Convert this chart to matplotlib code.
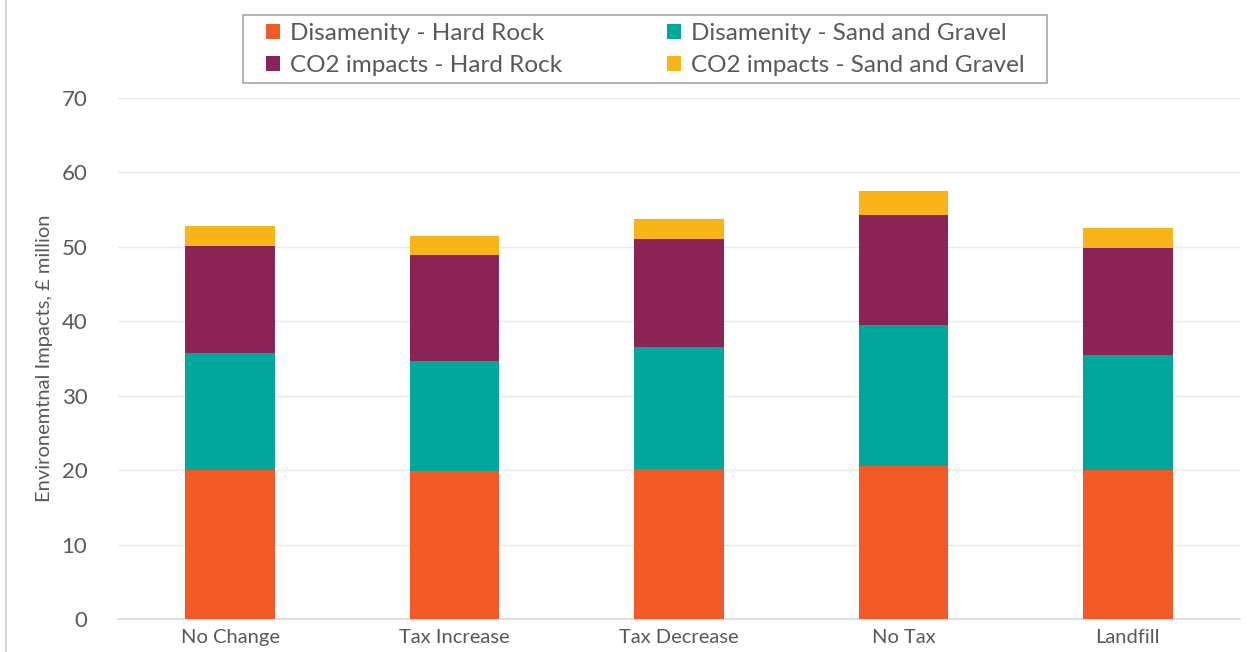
import matplotlib.pyplot as plt
from matplotlib.patches import Rectangle
import numpy as np

plt.rcParams['font.family'] = ['Lato', 'DejaVu Sans']

scenarios = ["No Change", "Tax Increase", "Tax Decrease", "No Tax", "Landfill"]

# £ million
dis_hard_rock = [20.05, 19.9, 20.2, 20.6, 20.05]
dis_sand_gravel = [15.7, 14.8, 16.4, 18.9, 15.45]
co2_hard_rock = [14.35, 14.2, 14.4, 14.8, 14.3]
co2_sand_gravel = [2.7, 2.6, 2.8, 3.2, 2.7]

series = [
    ("Disamenity - Hard Rock", dis_hard_rock, "#F15A24"),
    ("Disamenity - Sand and Gravel", dis_sand_gravel, "#00A79D"),
    ("CO2 impacts - Hard Rock", co2_hard_rock, "#8B2455"),
    ("CO2 impacts - Sand and Gravel", co2_sand_gravel, "#F9B517"),
]

fig = plt.figure(figsize=(12.5, 6.52), dpi=100)
ax = fig.add_axes([0.0944, 0.0506, 0.8976, 0.7991])

x = np.arange(len(scenarios))
bottom = np.zeros(len(scenarios))
bars = {}
for name, vals, col in series:
    bars[name] = ax.bar(x, vals, 0.4, bottom=bottom, color=col, label=name, zorder=3)
    bottom += np.array(vals)

ax.set_xlim(-0.5, len(scenarios) - 0.5)
ax.set_ylim(0, 70)
ax.set_yticks(range(0, 71, 10))
ax.set_xticks(x)
ax.set_xticklabels(scenarios, fontsize=14.5, color="#595959")
ax.tick_params(axis="y", labelsize=16, labelcolor="#595959", length=0, pad=22)
ax.tick_params(axis="x", length=0, pad=7)
ax.grid(axis="y", color="#e9e9e9", linewidth=1, zorder=0)
for s in ["top", "right", "left"]:
    ax.spines[s].set_visible(False)
ax.spines["bottom"].set_color("#d9d9d9")
ax.spines["bottom"].set_linewidth(1.2)

ax.set_ylabel("Environemtnal Impacts, £ million", fontsize=14.5, color="#595959", labelpad=6)

# legend fills column-wise: order so rows read Disamenity / CO2
order = [series[0][0], series[2][0], series[1][0], series[3][0]]
leg = fig.legend([bars[n] for n in order], order, loc="center",
                 bbox_to_anchor=(0.516, 0.924), ncol=2, fontsize=17.5,
                 frameon=False, handlelength=0.6, handleheight=0.6,
                 handletextpad=0.4, columnspacing=4.3, labelspacing=0.45)
for t in leg.get_texts():
    t.set_color("#595959")

# legend box, wider than matplotlib's own frame
fig.add_artist(Rectangle((243 / 1250, 1 - 83 / 652), 804 / 1250, 68 / 652,
                         transform=fig.transFigure, fill=False,
                         edgecolor="#a6a6a6", linewidth=1.2))

# outer chart border on the left
fig.add_artist(plt.Line2D([0.005, 0.005], [0, 1], color="#d0d0d0", linewidth=1.2))

fig.savefig("out.png", dpi=100)
